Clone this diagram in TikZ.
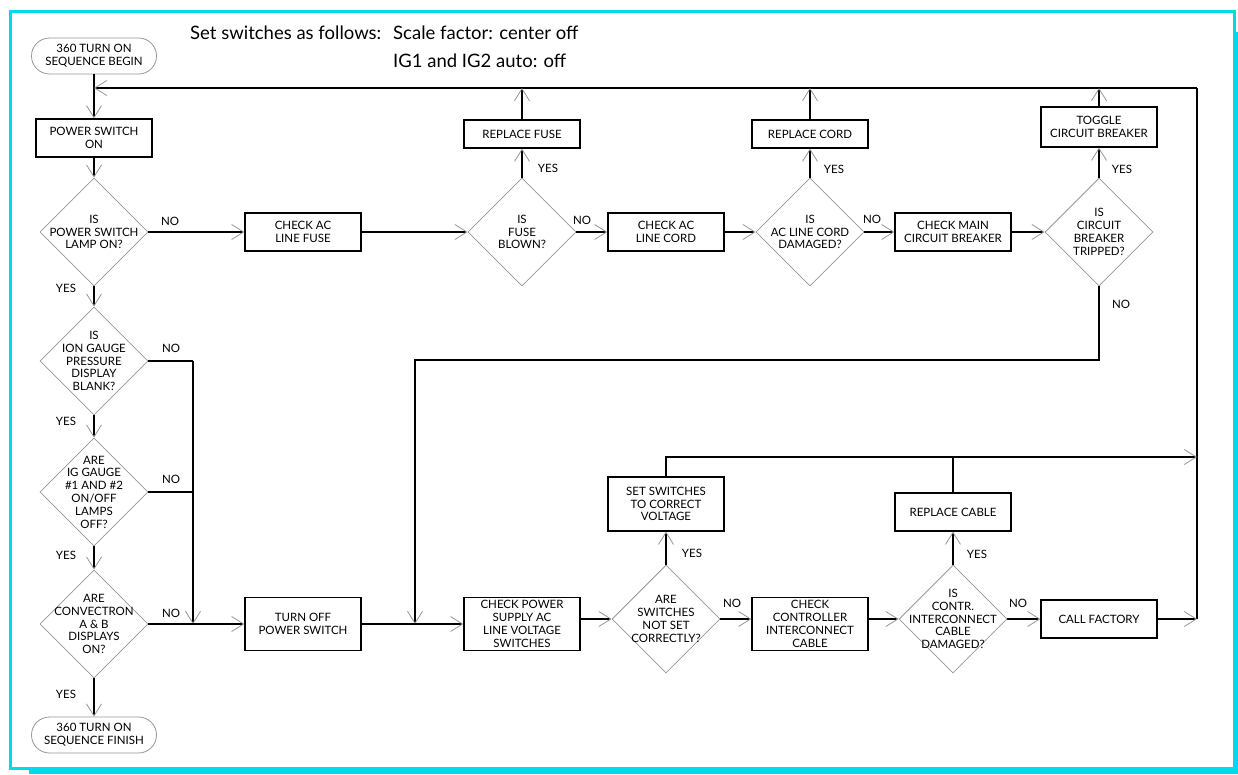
\documentclass[tikz,border=0pt]{standalone}
\usepackage{fontspec}
\setmainfont{Lato}
\usetikzlibrary{arrows.meta,shapes.geometric,calc}
\definecolor{framecyan}{RGB}{0,216,238}
\definecolor{dgray}{RGB}{150,150,150}
\begin{document}
\begin{tikzpicture}[x=1pt,y=-1pt,
  every node/.style={font=\fontsize{11.5}{12.8}\selectfont, text=black},
  box/.style={draw=black, line width=1.3pt, rectangle, minimum width=116pt, align=center, inner sep=0pt},
  dia/.style={draw=dgray, line width=0.8pt, diamond, aspect=1, minimum width=108pt, minimum height=108pt, inner sep=0pt},
  dtext/.style={align=center, inner sep=0pt},
  term/.style={draw=dgray, line width=0.8pt, rounded corners=18pt, minimum width=125pt, minimum height=36pt, align=center, inner sep=0pt},
  conn/.style={line width=1.3pt, draw=black},
  arr/.style={conn, -{Straight Barb[length=12pt,width=15pt,line width=0.8pt,color=dgray]}},
  lab/.style={inner sep=0pt},
  title/.style={font=\fontsize{18.5}{22}\selectfont, inner sep=0pt, anchor=base west}
]
\useasboundingbox (0,0) rectangle (1238,774);
% frame
\fill[framecyan] (1233,32) rectangle (1238,774);
\fill[framecyan] (29,767) rectangle (1238,774);
\draw[framecyan, line width=3pt] (10.5,11.3) rectangle (1234,768.5);

% title
\node[title] (t1) at (190,39) {Set switches as follows:};
\node[title] (t2) at (393,39) {Scale factor: center off};
\node[title] (t3) at (393,67) {IG1 and IG2 auto: off};

% left column
\node[term] (start) at (94,56) {360 TURN ON\\SEQUENCE BEGIN};
\node[box, minimum height=38pt] (ps) at (94,138) {POWER SWITCH\\ON};
\node[dia] (d1) at (94,232) {};
\node[dtext] (d1t) at (d1) {IS\\POWER SWITCH\\LAMP ON?};
\node[dia] (d2) at (94,361) {};
\node[dtext] (d2t) at (d2) {IS\\ION GAUGE\\PRESSURE\\DISPLAY\\BLANK?};
\node[dia] (d3) at (94,492) {};
\node[dtext] (d3t) at (d3) {ARE\\IG GAUGE\\\#1 AND \#2\\ON/OFF\\LAMPS\\OFF?};
\node[dia] (d4) at (94,624) {};
\node[dtext] (d4t) at (d4) {ARE\\CONVECTRON\\A \& B\\DISPLAYS\\ON?};
\node[term] (finish) at (94,735) {360 TURN ON\\SEQUENCE FINISH};

% row 1
\node[box, minimum height=38pt] (fuseck) at (303,232) {CHECK AC\\LINE FUSE};
\node[dia] (dfuse) at (522,232) {};
\node[dtext] (dfuset) at (dfuse) {IS\\FUSE\\BLOWN?};
\node[box, minimum height=28pt] (rfuse) at (522,134) {REPLACE FUSE};
\node[box, minimum height=38pt] (cordck) at (666,232) {CHECK AC\\LINE CORD};
\node[dia] (dcord) at (810,232) {};
\node[dtext] (dcordt) at (dcord) {IS\\AC LINE CORD\\DAMAGED?};
\node[box, minimum height=28pt] (rcord) at (810,134) {REPLACE CORD};
\node[box, minimum height=38pt] (cbck) at (953,232) {CHECK MAIN\\CIRCUIT BREAKER};
\node[dia] (dcb) at (1099,232) {};
\node[dtext] (dcbt) at (dcb) {IS\\CIRCUIT\\BREAKER\\TRIPPED?};
\node[box, minimum height=40pt] (toggle) at (1099,127) {TOGGLE\\CIRCUIT BREAKER};

% row 2
\node[box, minimum height=53pt] (turnoff) at (303,624) {TURN OFF\\POWER SWITCH};
\node[box, minimum height=53pt] (cps) at (522,624) {CHECK POWER\\SUPPLY AC\\LINE VOLTAGE\\SWITCHES};
\node[dia] (dsw) at (666,619) {};
\node[dtext] (dswt) at (dsw) {ARE\\SWITCHES\\NOT SET\\CORRECTLY?};
\node[box, minimum height=54pt] (setsw) at (666,504) {SET SWITCHES\\TO CORRECT\\VOLTAGE};
\node[box, minimum height=53pt] (ccic) at (810,624) {CHECK\\CONTROLLER\\INTERCONNECT\\CABLE};
\node[dia] (dcab) at (953,619) {};
\node[dtext] (dcabt) at (dcab) {IS\\CONTR.\\INTERCONNECT\\CABLE\\DAMAGED?};
\node[box, minimum height=38pt] (rcab) at (953,512) {REPLACE CABLE};
\node[box, minimum height=38pt] (callf) at (1099,619) {CALL FACTORY};

% coordinates
\coordinate (TL) at (94,88);
\coordinate (TR) at (1197,88);
\coordinate (MR) at (1197,457);
\coordinate (BR) at (1197,619);
\coordinate (vL) at (193,361);
\coordinate (vLb) at (193,624);
\coordinate (cbL) at (415,360);
\coordinate (cbLb) at (415,624);

% connectors
\draw[arr] (start.south) -- (ps.north);
\draw[arr] (TR) -- (TL);
\draw[conn] (BR) -- (TR);
\draw[arr] (ps.south) -- (d1.north);
\draw[arr] (d1.east) -- (fuseck.west);
\draw[arr] (fuseck.east) -- (dfuse.west);
\draw[arr] (dfuse.north) -- (rfuse.south);
\draw[arr] (rfuse.north) -- (rfuse.north |- TL);
\draw[arr] (dfuse.east) -- (cordck.west);
\draw[arr] (cordck.east) -- (dcord.west);
\draw[arr] (dcord.north) -- (rcord.south);
\draw[arr] (rcord.north) -- (rcord.north |- TL);
\draw[arr] (dcord.east) -- (cbck.west);
\draw[arr] (cbck.east) -- (dcb.west);
\draw[arr] (dcb.north) -- (toggle.south);
\draw[arr] (toggle.north) -- (toggle.north |- TL);
\draw[arr] (dcb.south) |- (cbL) -- (cbLb);

\draw[arr] (d1.south) -- (d2.north);
\draw[arr] (d2.south) -- (d3.north);
\draw[arr] (d3.south) -- (d4.north);
\draw[arr] (d4.south) -- (finish.north);
\draw[conn] (d2.east) -- (vL);
\draw[conn] (d3.east) -- (d3.east -| vL);
\draw[arr] (vL) -- (vLb);
\draw[arr] (d4.east) -- (turnoff.west);

\draw[arr] (turnoff.east) -- (cps.west);
\draw[arr] (cps.east |- dsw.west) -- (dsw.west);
\draw[arr] (dsw.north) -- (setsw.south);
\draw[arr] (setsw.north) |- (MR);
\draw[conn] (rcab.north) -- (rcab.north |- MR);
\draw[arr] (dsw.east) -- (ccic.west |- dsw.east);
\draw[arr] (ccic.east |- dcab.west) -- (dcab.west);
\draw[arr] (dcab.north) -- (rcab.south);
\draw[arr] (dcab.east) -- (callf.west);
\draw[arr] (callf.east) -- (BR);

% labels
\node[lab] (n1) at (170,221) {NO};
\node[lab] (y1) at (66,288) {YES};
\node[lab] (n2) at (171,348) {NO};
\node[lab] (y2) at (66,421) {YES};
\node[lab] (n3) at (171,479) {NO};
\node[lab] (y3) at (66,555) {YES};
\node[lab] (n4) at (171,613) {NO};
\node[lab] (y4) at (66,694) {YES};
\node[lab] (yf) at (548,168) {YES};
\node[lab] (nf) at (582,220) {NO};
\node[lab] (yc) at (834,169) {YES};
\node[lab] (nc) at (872,219) {NO};
\node[lab] (yb) at (1122,169) {YES};
\node[lab] (nb) at (1121,304) {NO};
\node[lab] (ys) at (692,553) {YES};
\node[lab] (ns) at (732,603) {NO};
\node[lab] (yr) at (977,554) {YES};
\node[lab] (nr) at (1018,603) {NO};
\end{tikzpicture}
\end{document}
